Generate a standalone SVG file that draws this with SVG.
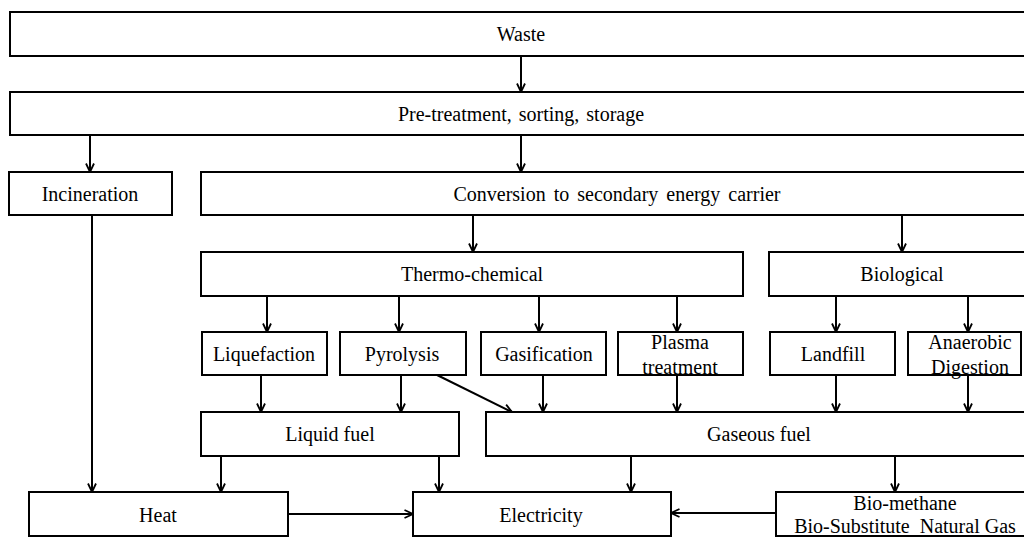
<svg xmlns="http://www.w3.org/2000/svg" width="1024" height="538" viewBox="0 0 1024 538">
  <style>
    .box { fill: #ffffff; stroke: #000000; stroke-width: 2; }
    .lbl { font-size: 20px; fill: #000000; text-anchor: middle; dominant-baseline: central; }
    .wire { fill: none; stroke: #000000; stroke-width: 2; }
  </style>
  <defs>
    <marker id="arrow" viewBox="0 0 10 10" refX="9.5" refY="5" markerWidth="10" markerHeight="10" markerUnits="userSpaceOnUse" orient="auto">
      <path d="M1,1 L9.5,5 L1,9" fill="none" stroke="#000000" stroke-width="1.8"/>
    </marker>
  </defs>
  <rect width="1024" height="538" fill="#ffffff"/>

  <!-- connectors -->
  <g id="connectors" class="wire" marker-end="url(#arrow)">
    <line x1="521" y1="56" x2="521" y2="92"/>
    <line x1="90" y1="135" x2="90" y2="172"/>
    <line x1="521" y1="135" x2="521" y2="172"/>
    <line x1="473" y1="215" x2="473" y2="252"/>
    <line x1="902" y1="215" x2="902" y2="252"/>
    <line x1="267" y1="296" x2="267" y2="332"/>
    <line x1="399" y1="296" x2="399" y2="332"/>
    <line x1="539" y1="296" x2="539" y2="332"/>
    <line x1="677" y1="296" x2="677" y2="332"/>
    <line x1="836" y1="296" x2="836" y2="332"/>
    <line x1="968" y1="296" x2="968" y2="332"/>
    <line x1="261" y1="375" x2="261" y2="412"/>
    <line x1="401" y1="375" x2="401" y2="412"/>
    <line x1="433" y1="373" x2="512" y2="412"/>
    <line x1="543" y1="375" x2="543" y2="412"/>
    <line x1="677" y1="375" x2="677" y2="412"/>
    <line x1="836" y1="375" x2="836" y2="412"/>
    <line x1="968" y1="375" x2="968" y2="412"/>
    <line x1="92" y1="215" x2="92" y2="492"/>
    <line x1="221" y1="456" x2="221" y2="492"/>
    <line x1="439" y1="456" x2="439" y2="492"/>
    <line x1="631" y1="456" x2="631" y2="492"/>
    <line x1="895" y1="456" x2="895" y2="492"/>
    <line x1="288" y1="514" x2="413" y2="514"/>
    <line x1="776" y1="513" x2="671" y2="513"/>
  </g>

  <g id="nodes" font-family="'Liberation Serif', 'DejaVu Serif', serif">
    <g id="waste">
      <rect class="box" x="10" y="12" width="1030" height="44"/>
      <text class="lbl" x="521" y="34">Waste</text>
    </g>
    <g id="pretreatment">
      <rect class="box" x="10" y="92" width="1030" height="43"/>
      <text class="lbl" x="521" y="114" word-spacing="2">Pre-treatment, sorting, storage</text>
    </g>
    <g id="incineration">
      <rect class="box" x="9" y="172" width="163" height="43"/>
      <text class="lbl" x="90" y="194">Incineration</text>
    </g>
    <g id="conversion">
      <rect class="box" x="201" y="172" width="840" height="43"/>
      <text class="lbl" x="617" y="194" word-spacing="3">Conversion to secondary energy carrier</text>
    </g>
    <g id="thermochemical">
      <rect class="box" x="201" y="252" width="542" height="44"/>
      <text class="lbl" x="472" y="274">Thermo-chemical</text>
    </g>
    <g id="biological">
      <rect class="box" x="769" y="252" width="270" height="44"/>
      <text class="lbl" x="902" y="274">Biological</text>
    </g>
    <g id="liquefaction">
      <rect class="box" x="202" y="332" width="125" height="43"/>
      <text class="lbl" x="264" y="354">Liquefaction</text>
    </g>
    <g id="pyrolysis">
      <rect class="box" x="340" y="332" width="126" height="43"/>
      <text class="lbl" x="402" y="354">Pyrolysis</text>
    </g>
    <g id="gasification">
      <rect class="box" x="481" y="332" width="125" height="43"/>
      <text class="lbl" x="544" y="354">Gasification</text>
    </g>
    <g id="plasma">
      <rect class="box" x="618" y="332" width="125" height="43"/>
      <text class="lbl" x="680" y="342">Plasma</text>
      <text class="lbl" x="680" y="367">treatment</text>
    </g>
    <g id="landfill">
      <rect class="box" x="770" y="332" width="125" height="43"/>
      <text class="lbl" x="833" y="354">Landfill</text>
    </g>
    <g id="anaerobic">
      <rect class="box" x="908" y="332" width="113" height="43"/>
      <text class="lbl" x="970" y="342">Anaerobic</text>
      <text class="lbl" x="970" y="367">Digestion</text>
    </g>
    <g id="liquid-fuel">
      <rect class="box" x="201" y="412" width="258" height="44"/>
      <text class="lbl" x="330" y="434">Liquid fuel</text>
    </g>
    <g id="gaseous-fuel">
      <rect class="box" x="486" y="412" width="555" height="44"/>
      <text class="lbl" x="759" y="434">Gaseous fuel</text>
    </g>
    <g id="heat">
      <rect class="box" x="29" y="492" width="259" height="44"/>
      <text class="lbl" x="158" y="515">Heat</text>
    </g>
    <g id="electricity">
      <rect class="box" x="413" y="492" width="258" height="44"/>
      <text class="lbl" x="541" y="515">Electricity</text>
    </g>
    <g id="biomethane">
      <rect class="box" x="776" y="492" width="265" height="44"/>
      <text class="lbl" x="905" y="503">Bio-methane</text>
      <text class="lbl" x="905" y="526" xml:space="preserve">Bio-Substitute  Natural Gas</text>
    </g>
  </g>
</svg>
